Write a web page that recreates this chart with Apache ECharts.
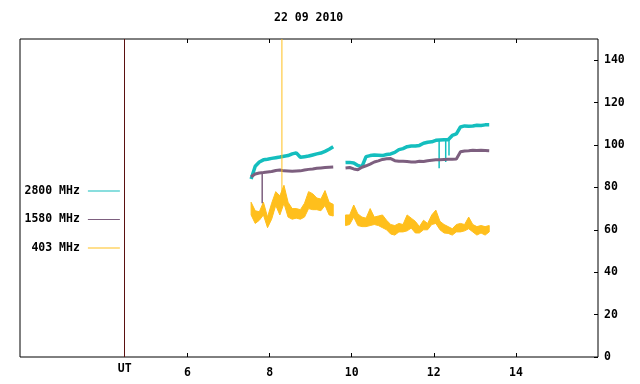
<!DOCTYPE html>
<html>
<head>
<meta charset="utf-8">
<script src="https://cdn.jsdelivr.net/npm/echarts@6/dist/echarts.min.js"></script>
<style>
  body { margin: 0; background: #fff; }
  #map { width: 640px; height: 384px; }
</style>
</head>
<body>
<div id="map"></div>
<script>
// time in UT hours, two observing runs
var hours1 = [7.55, 7.65, 7.75, 7.85, 7.95, 8.05, 8.15, 8.25, 8.35, 8.45, 8.55, 8.65, 8.75, 8.85, 8.95, 9.05, 9.15, 9.25, 9.35, 9.45, 9.55];
var hours2 = [9.85, 9.95, 10.05, 10.15, 10.25, 10.35, 10.45, 10.55, 10.65, 10.75, 10.85, 10.95, 11.05, 11.15, 11.25, 11.35, 11.45, 11.55,
              11.65, 11.75, 11.85, 11.95, 12.05, 12.15, 12.25, 12.35, 12.45, 12.55, 12.65, 12.75, 12.85, 12.95, 13.05, 13.15, 13.25, 13.35];

// 2800 MHz
var flux2800a = [84, 90, 92, 93, 93.3, 93.7, 94, 94.3, 94.7, 95, 95.8, 96.3, 94.2, 94.5, 94.8, 95.3, 95.8, 96.2, 97, 98, 99.2];
var flux2800b = [91.7, 91.8, 91.5, 90.3, 89.8, 94.5, 95, 95.3, 95.2, 95, 95.5, 95.8, 96.5, 97.8, 98.3, 99.2, 99.5, 99.5,
                 99.8, 100.8, 101.3, 101.5, 102.2, 102.4, 102.5, 102.5, 104.5, 105.2, 108.5, 109, 108.8, 109, 109.3, 109.2, 109.5, 109.5];
// short drop-outs / spikes: [hour, from, to]
var dips2800 = [[12.13, 102.3, 89], [12.29, 102.5, 92], [12.37, 102.8, 95]];

// 1580 MHz
var flux1580a = [85, 86.3, 86.8, 87, 87.3, 87.5, 88, 88.2, 87.8, 87.7, 87.6, 87.7, 87.8, 88.2, 88.5, 88.7, 89, 89.2, 89.4, 89.5, 89.6];
var flux1580b = [89.2, 89.4, 88.7, 88.3, 89.5, 90.2, 91, 92, 92.5, 93.2, 93.5, 93.6, 92.6, 92.3, 92.3, 92.2, 92, 92,
                 92.3, 92.2, 92.6, 92.8, 93, 93.1, 93.2, 93.3, 93.3, 93.4, 96.8, 97.2, 97.3, 97.5, 97.4, 97.5, 97.4, 97.3];
var dips1580 = [[7.82, 86.9, 72.5]];

// 403 MHz, noisy: low / high edge of the trace
var low403a  = [67, 63, 64.5, 67, 61, 65, 71.5, 67, 72.5, 66, 65, 65.5, 65, 66, 70, 69.5, 69.5, 69, 71.5, 67, 66.5];
var high403a = [73, 69, 68.5, 73, 66, 72.5, 78, 76, 81, 73, 70, 70, 69.5, 72.5, 78, 77, 75, 74.5, 78.5, 73, 72];
var low403b  = [62, 62.5, 66, 62, 61.5, 61.5, 62, 62.5, 62, 61, 60, 58, 57.5, 59, 59, 59.5, 60.8, 58.5,
                58.5, 60, 60, 62.5, 63, 60, 58.5, 58.3, 57.5, 59, 59, 59.5, 60.5, 59, 57.5, 58.5, 57.5, 59];
var high403b = [67, 67, 71.7, 67.5, 66, 65.5, 70, 66, 66.5, 67, 64.5, 62.5, 62, 63, 62.5, 67, 65.5, 64,
                61.5, 64.5, 63, 67, 69.3, 64, 62.5, 61.5, 60.5, 62.5, 63, 62.5, 66, 62.5, 61.5, 62, 61.5, 62];
var spikes403 = [[8.30, 72, 150]];

var names = ['2800 MHz', '1580 MHz', '403 MHz'];
var colors = ['#14bebe', '#7d5f7f', '#ffbf1c'];
var gapHour = 9.7;
var utHour = 4.47;
var xTicks = [6, 8, 10, 12, 14];
var yTicks = [0, 20, 40, 60, 80, 100, 120, 140];

var font = {fontFamily: 'DejaVu Sans Mono', fontWeight: 'bold', fontSize: 11.5, color: '#000'};

function pairs(hours, vals) {
    var res = [];
    for (var i = 0; i < hours.length; i++) res.push([hours[i], vals[i]]);
    return res;
}
function strokes(list) {
    var res = [];
    list.forEach(function (d) {
        res.push([d[0], d[1]], [d[0], d[2]], [d[0], null]);
    });
    return res;
}

var chart = echarts.init(document.getElementById('map'));

function lineSeries(idx, data, width) {
    return {
        name: names[idx],
        type: 'line',
        data: data,
        showSymbol: false,
        connectNulls: false,
        lineStyle: {color: colors[idx], width: width},
        itemStyle: {color: colors[idx]},
        animation: false
    };
}

// filled band between the low and high edge, one polygon per run
var bands403 = [
    {hours: hours1, lo: low403a, hi: high403a},
    {hours: hours2, lo: low403b, hi: high403b}
];
var bandSeries = {
    name: names[2],
    type: 'custom',
    itemStyle: {color: colors[2]},
    data: [[hours1[0], low403a[0]], [hours2[0], low403b[0]]],
    renderItem: function (params, api) {
        var b = bands403[params.dataIndex];
        var pts = [];
        for (var i = 0; i < b.hours.length; i++) pts.push(api.coord([b.hours[i], b.hi[i]]));
        for (var j = b.hours.length - 1; j >= 0; j--) pts.push(api.coord([b.hours[j], b.lo[j]]));
        return {
            type: 'polygon',
            shape: {points: pts},
            style: {fill: colors[2], stroke: colors[2], lineWidth: 1}
        };
    },
    animation: false
};

var s0 = lineSeries(0, pairs(hours1, flux2800a).concat([[gapHour, null]], pairs(hours2, flux2800b)), 3.5);
s0.markLine = {
    silent: true,
    symbol: 'none',
    label: {show: false},
    lineStyle: {color: '#5a1010', width: 1, type: 'solid'},
    data: [{xAxis: utHour}]
};

var option = {
    backgroundColor: '#fff',
    animation: false,
    title: {
        text: '22 09 2010',
        left: 274,
        top: 12,
        padding: 0,
        textStyle: font
    },
    legend: {
        orient: 'vertical',
        align: 'right',
        left: 24.5,
        top: 184,
        padding: 0,
        itemGap: 14.5,
        itemWidth: 32,
        itemHeight: 1,
        icon: 'rect',
        itemStyle: {borderWidth: 0},
        textStyle: Object.assign({lineHeight: 14, padding: [0, 3, 0, 0]}, font),
        data: names
    },
    grid: {
        left: 20, top: 39, right: 42, bottom: 27,
        show: true, borderColor: '#000', borderWidth: 1,
        containLabel: false
    },
    xAxis: [
        {
            type: 'value', position: 'bottom', min: 1.92, max: 16,
            axisLine: {show: false},
            splitLine: {show: false},
            axisTick: {inside: true, length: 4, customValues: xTicks, lineStyle: {color: '#000'}},
            axisLabel: Object.assign({customValues: xTicks, margin: 10}, font)
        },
        {
            type: 'value', position: 'top', min: 1.92, max: 16,
            axisLine: {show: false},
            splitLine: {show: false},
            axisTick: {inside: true, length: 4, customValues: xTicks, lineStyle: {color: '#000'}},
            axisLabel: {show: false}
        },
        {
            type: 'value', position: 'bottom', min: 1.92, max: 16,
            axisLine: {show: false},
            splitLine: {show: false},
            axisTick: {show: false},
            axisLabel: Object.assign({customValues: [utHour], margin: 6, formatter: function () { return 'UT'; }}, font)
        }
    ],
    yAxis: {
        type: 'value', position: 'right', min: 0, max: 150,
        axisLine: {show: false},
        splitLine: {show: false},
        axisTick: {inside: true, length: 4, customValues: yTicks, lineStyle: {color: '#000'}},
        axisLabel: Object.assign({customValues: yTicks, margin: 6}, font)
    },
    series: [
        s0,
        lineSeries(0, strokes(dips2800), 1.5),
        lineSeries(1, pairs(hours1, flux1580a).concat([[gapHour, null]], pairs(hours2, flux1580b)), 3),
        lineSeries(1, strokes(dips1580), 1.5),
        lineSeries(2, strokes(spikes403), 1),
        bandSeries
    ]
};

chart.setOption(option);
</script>
</body>
</html>
